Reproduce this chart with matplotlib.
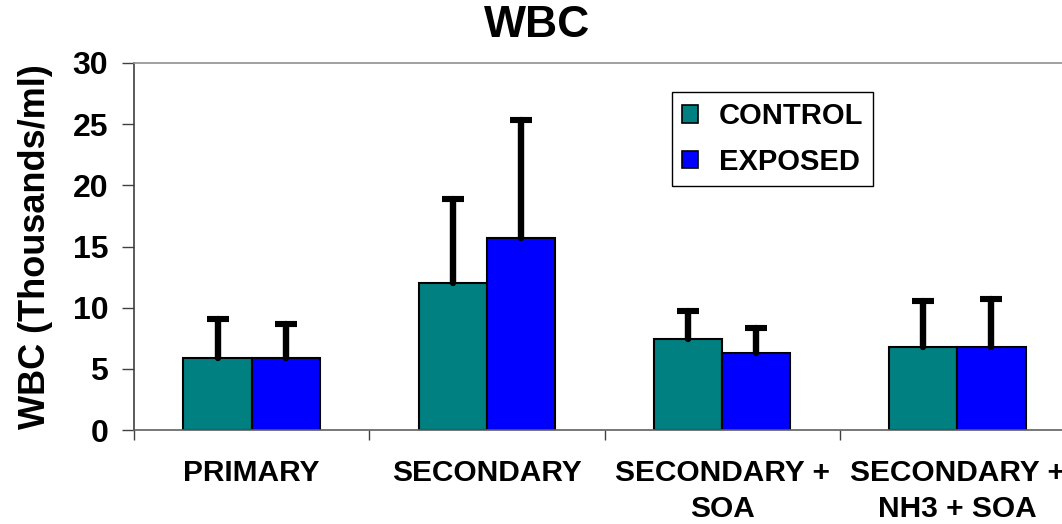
import numpy as np
import matplotlib.pyplot as plt
from matplotlib.patches import Patch

plt.rcParams['font.family'] = ['Liberation Sans', 'DejaVu Sans']
plt.rcParams['font.weight'] = 'bold'

categories = ['PRIMARY', 'SECONDARY', 'SECONDARY +\nSOA', 'SECONDARY +\nNH3 + SOA']
control = [5.9, 12.0, 7.4, 6.8]
exposed = [5.9, 15.7, 6.3, 6.8]
control_err = [3.15, 6.9, 2.35, 3.75]
exposed_err = [2.8, 9.6, 2.0, 3.9]
series_names = ['CONTROL', 'EXPOSED']

TEAL = '#008080'
BLUE = '#0000FF'

W, H = 1062, 524
fig = plt.figure(figsize=(W/100, H/100), dpi=100)
ax = fig.add_axes([134/W, (H-430)/H, (1075-134)/W, (430-63)/H])

x = np.arange(len(categories))
bw = 0.29
ax.bar(x - bw/2, control, bw, color=TEAL, edgecolor='black', linewidth=1.5, zorder=2)
ax.bar(x + bw/2, exposed, bw, color=BLUE, edgecolor='black', linewidth=1.5, zorder=2)

# one-sided (upper) error bars, lower cap hidden
for xs, ys, es in [(x - bw/2, control, control_err), (x + bw/2, exposed, exposed_err)]:
    _, caps, bars = ax.errorbar(xs, ys, yerr=[np.zeros(len(es)), es], fmt='none',
                                ecolor='black', elinewidth=4.6, capsize=8, capthick=4.4,
                                zorder=3)
    caps[0].set_visible(False)
    for b in bars:
        b.set_capstyle('round')

ax.set_xlim(-0.5, 3.5)
ax.set_ylim(0, 30)
ax.set_yticks(np.arange(0, 31, 5))
ax.tick_params(axis='y', length=8.6, width=1, color='#404040', pad=10, labelsize=23)

ax.set_xticks(x)
ax.set_xticklabels(categories, fontsize=21.5, linespacing=1.36)
ax.tick_params(axis='x', which='major', length=0, pad=21)
ax.set_xticks(np.arange(-0.5, 3.6, 1), minor=True)
ax.tick_params(axis='x', which='minor', length=7, width=1, color='#404040')

ax.spines['left'].set_color('#404040')
ax.spines['bottom'].set_color('#606060')
ax.spines['top'].set_color('#909090')
ax.spines['right'].set_color('#909090')
for s in ax.spines.values():
    s.set_linewidth(1.2)

handles = [Patch(facecolor=TEAL, edgecolor='black', linewidth=1.2),
           Patch(facecolor=BLUE, edgecolor='black', linewidth=1.2)]
leg = ax.legend(handles, series_names, loc='upper left',
                bbox_to_anchor=(672/W, 1 - 92/H), bbox_transform=fig.transFigure,
                borderaxespad=0, fancybox=False, shadow=False, framealpha=1,
                edgecolor='black', fontsize=21, handlelength=0.55, handleheight=0.55,
                handletextpad=0.7, borderpad=0.35, labelspacing=0.6)
leg.get_frame().set_linewidth(1.0)

fig.text(537/W, 1 - 37/H, 'WBC', ha='center', va='baseline', fontsize=32, fontweight='bold')
fig.text(36/W, 1 - 247/H, 'WBC (Thousands/ml)', ha='center', va='center',
         rotation=90, fontsize=26, fontweight='bold')

fig.savefig('out.png', dpi=100)
